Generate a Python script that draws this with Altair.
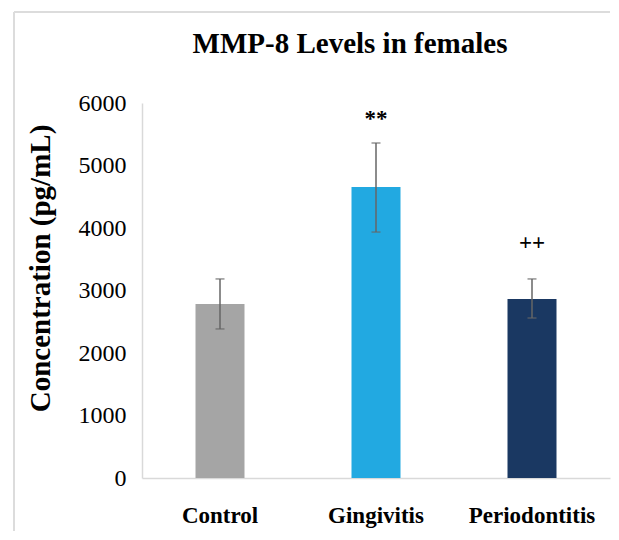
import altair as alt
import pandas as pd

groups = ["Control", "Gingivitis", "Periodontitis"]
means = [2785, 4655, 2865]
err_low = [2385, 3935, 2560]
err_high = [3185, 5360, 3185]
sig_labels = ["", "**", "++"]
sig_y = [None, 5740, 3760]
bar_colors = ["#a5a5a5", "#22a9e1", "#1a3862"]
y_ticks = [0, 1000, 2000, 3000, 4000, 5000, 6000]

df = pd.DataFrame({
    "group": groups,
    "mean": means,
    "lo": err_low,
    "hi": err_high,
    "sig": sig_labels,
    "sig_y": sig_y,
})

W, H = 468, 375
SERIF = "Liberation Serif"

x = alt.X(
    "group:N",
    sort=groups,
    scale=alt.Scale(paddingInner=0.686, paddingOuter=0.343),
    axis=alt.Axis(
        title=None, labelAngle=0, labelFont=SERIF, labelFontSize=23,
        labelFontWeight="bold", labelColor="#000000", labelPadding=26,
        ticks=False, domainColor="#d9d9d9", domainWidth=1.5,
    ),
)

y_scale = alt.Scale(domain=[0, 6000], nice=False)

base = alt.Chart(df)

bars = base.mark_bar(size=49).encode(
    x=x,
    y=alt.Y(
        "mean:Q", scale=y_scale,
        axis=alt.Axis(
            title="Concentration (pg/mL)", values=y_ticks, format="d", grid=False, ticks=False,
            labelFont=SERIF, labelFontSize=24, labelColor="#000000", labelPadding=16,
            domainColor="#d9d9d9", domainWidth=1.5,
            titleFont=SERIF, titleFontSize=29, titleFontWeight="bold", titleColor="#000000",
            titleX=-102, titleY=165, titleBaseline="middle", titleAngle=-90,
        ),
    ),
    color=alt.Color("group:N", scale=alt.Scale(domain=groups, range=bar_colors), legend=None),
)

err = base.mark_rule(color="#666666", strokeWidth=1.5).encode(
    x=alt.X("group:N", sort=groups),
    y=alt.Y("lo:Q", scale=y_scale),
    y2="hi:Q",
)

cap_hi = base.mark_tick(color="#666666", size=9, thickness=1.5, orient="horizontal").encode(
    x=alt.X("group:N", sort=groups),
    y=alt.Y("hi:Q", scale=y_scale),
)
cap_lo = base.mark_tick(color="#666666", size=9, thickness=1.5, orient="horizontal").encode(
    x=alt.X("group:N", sort=groups),
    y=alt.Y("lo:Q", scale=y_scale),
)

sig = base.transform_filter("datum.sig != ''").mark_text(
    font=SERIF, fontSize=23, fontWeight="bold", color="#000000", baseline="middle"
).encode(
    x=alt.X("group:N", sort=groups),
    y=alt.Y("sig_y:Q", scale=y_scale),
    text="sig:N",
)

frame_left = alt.Chart(pd.DataFrame({"a": [0]})).mark_rule(color="#dcdcdc", strokeWidth=2).encode(
    x=alt.value(-128), x2=alt.value(-128), y=alt.value(-91), y2=alt.value(428)
)
frame_top = alt.Chart(pd.DataFrame({"a": [0]})).mark_rule(color="#dcdcdc", strokeWidth=2).encode(
    x=alt.value(-128), x2=alt.value(468), y=alt.value(-91), y2=alt.value(-91)
)

chart = alt.layer(frame_left, frame_top, bars, err, cap_hi, cap_lo, sig).properties(
    width=W, height=H,
    background="#ffffff",
    padding={"left": 5, "top": 3, "right": 0, "bottom": 0},
    title=alt.TitleParams(
        "MMP-8 Levels in females", font=SERIF, fontSize=29, fontWeight="bold",
        color="#000000", anchor="middle", dx=-26, offset=-71, baseline="alphabetic",
    ),
).configure_view(stroke="transparent", strokeWidth=0)

chart.save("out.html", embed_options={"renderer": "svg", "actions": False})
